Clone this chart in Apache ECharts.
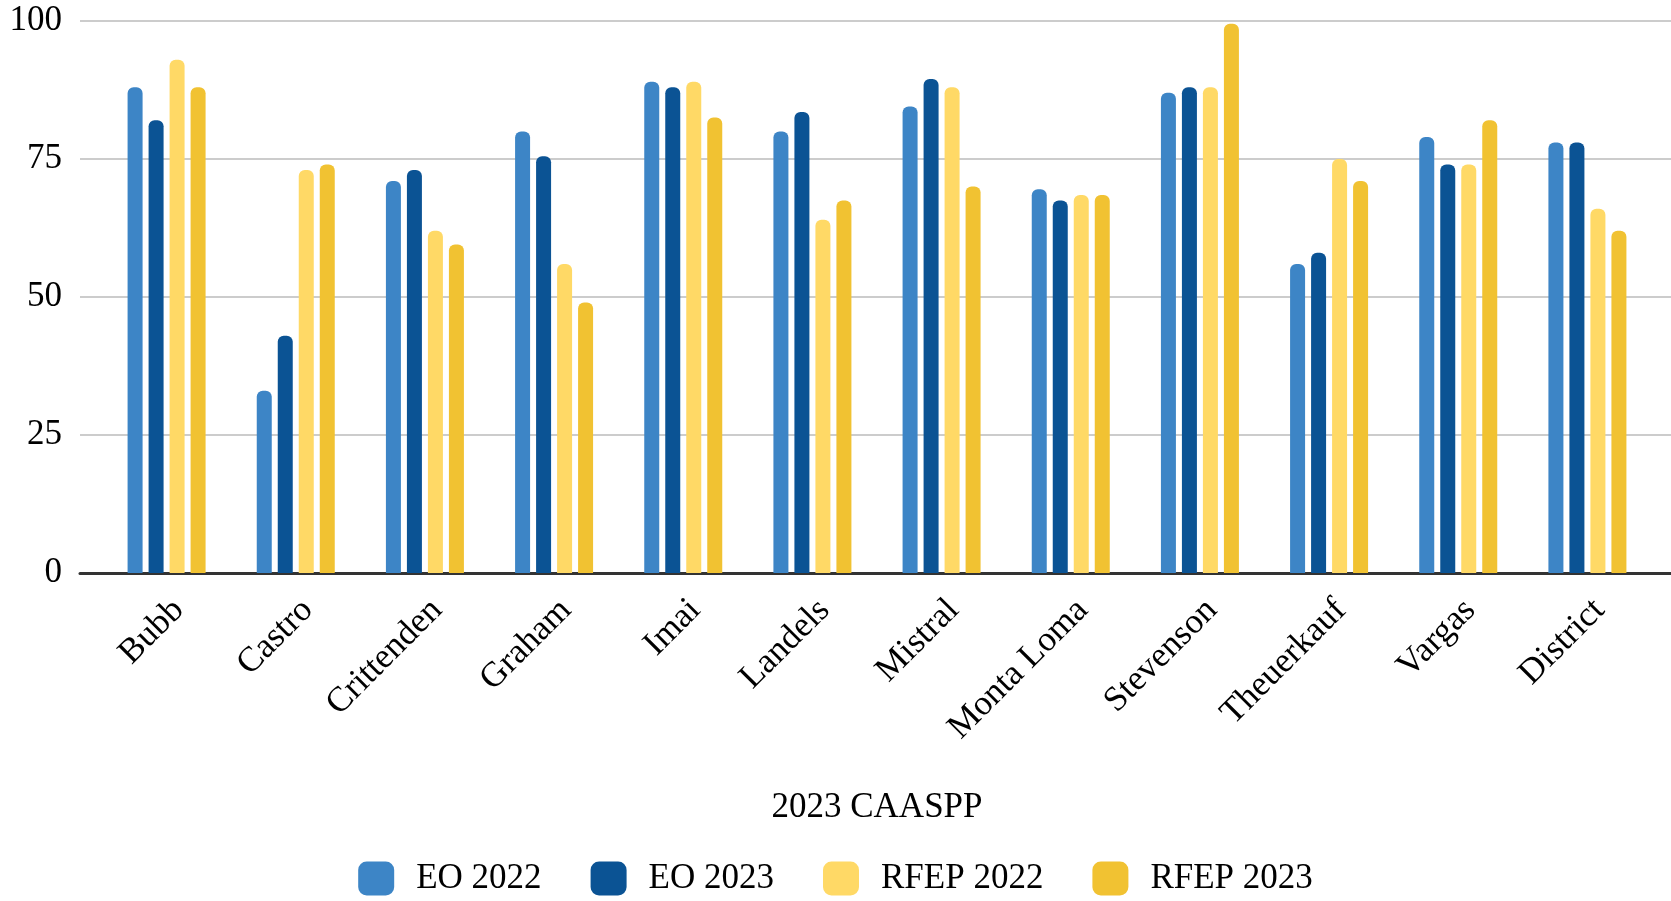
<!DOCTYPE html>
<html>
<head>
<meta charset="utf-8">
<script src="https://cdn.jsdelivr.net/npm/echarts@6/dist/echarts.min.js"></script>
<style>
html,body{margin:0;padding:0;background:#fff;}
#chart{width:1671px;height:901px;}
</style>
</head>
<body>
<div id="chart"></div>
<script>
const categories = ['Bubb','Castro','Crittenden','Graham','Imai','Landels','Mistral','Monta Loma','Stevenson','Theuerkauf','Vargas','District'];
const eo2022   = [88, 33, 71, 80, 89, 80, 84.5, 69.5, 87, 56, 79, 78];
const eo2023   = [82, 43, 73, 75.5, 88, 83.5, 89.5, 67.5, 88, 58, 74, 78];
const rfep2022 = [93, 73, 62, 56, 89, 64, 88, 68.5, 88, 75, 74, 66];
const rfep2023 = [88, 74, 59.5, 49, 82.5, 67.5, 70, 68.5, 99.5, 71, 82, 62];
const seriesNames = ['EO 2022','EO 2023','RFEP 2022','RFEP 2023'];
const yTicks = [0, 25, 50, 75, 100];
const xAxisTitle = '2023 CAASPP';

const colors = ['#3d85c6','#0b5394','#ffd966','#f1c232'];
const font = '"Liberation Serif", "Times New Roman", serif';
const chart = echarts.init(document.getElementById('chart'));
const values = [eo2022, eo2023, rfep2022, rfep2023];
const yMin = yTicks[0], yMax = yTicks[yTicks.length - 1];

chart.setOption({
  animation: false,
  color: colors,
  textStyle: {fontFamily: font, color: '#000'},
  grid: [
    {left: 80, right: 0, top: 21, bottom: 328},
    {left: 102, right: 19, top: 21, bottom: 328},
    {left: 114, right: 7, top: 21, bottom: 328}
  ],
  xAxis: [
    {gridIndex: 0, type: 'category', data: categories, z: 1,
     axisLine: {show: true, lineStyle: {color: '#333', width: 3}},
     axisTick: {show: false}, axisLabel: {show: false}, splitLine: {show: false}},
    {gridIndex: 1, type: 'category', data: categories,
     axisLine: {show: false}, axisTick: {show: false}, axisLabel: {show: false},
     name: xAxisTitle, nameLocation: 'middle', nameGap: 217,
     nameTextStyle: {fontSize: 35, fontFamily: font, color: '#000'}},
    {gridIndex: 2, type: 'category', data: categories,
     axisLine: {show: false}, axisTick: {show: false},
     axisLabel: {rotate: 45, margin: 32, fontSize: 35, fontFamily: font, color: '#000'}}
  ],
  yAxis: [
    {gridIndex: 0, type: 'value', min: yMin, max: yMax, interval: 25,
     axisLine: {show: false}, axisTick: {show: false},
     axisLabel: {fontSize: 35, fontFamily: font, color: '#000', margin: 18},
     splitLine: {lineStyle: {color: '#cccccc', width: 2}}},
    {gridIndex: 1, type: 'value', min: yMin, max: yMax, interval: 25, show: false,
     splitLine: {show: false}},
    {gridIndex: 2, type: 'value', min: yMin, max: yMax, interval: 25, show: false,
     splitLine: {show: false}}
  ],
  legend: {
    data: seriesNames,
    bottom: 0,
    left: 'center',
    icon: 'roundRect',
    itemWidth: 36,
    itemHeight: 34,
    itemGap: 49,
    textStyle: {fontSize: 35, fontFamily: font, color: '#000', padding: [0, 0, 0, 17]}
  },
  series: seriesNames.map((n, i) => ({
    name: n,
    type: 'bar',
    xAxisIndex: 1,
    yAxisIndex: 1,
    data: values[i],
    barWidth: 15,
    barGap: '40%',
    z: 3,
    itemStyle: {color: colors[i], borderRadius: [6, 6, 0, 0]}
  }))
});
</script>
</body>
</html>
